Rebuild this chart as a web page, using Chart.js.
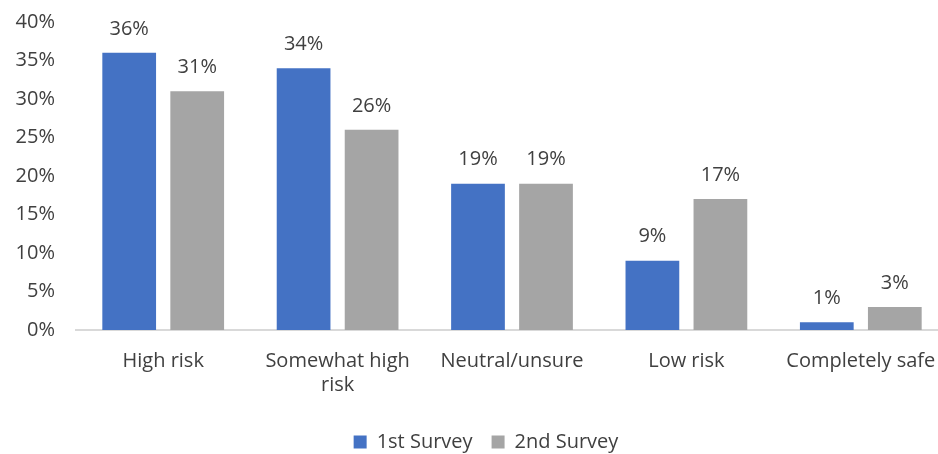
<!DOCTYPE html>
<html lang="en">
<head>
<meta charset="UTF-8">
<title>Risk survey</title>
<style>
  html, body { margin: 0; padding: 0; background: #fff; overflow: hidden; }
  #wrap { width: 980px; height: 454px; }
</style>
</head>
<body>
<div id="wrap"><canvas id="myChart"></canvas></div>
<script src="https://cdn.jsdelivr.net/npm/chart.js"></script>
<script>
// survey answers, percent of respondents
const categories = ["High risk", ["Somewhat high", "risk"], "Neutral/unsure", "Low risk", "Completely safe"];
const firstSurvey = [36, 34, 19, 9, 1];
const secondSurvey = [31, 26, 19, 17, 3];
const seriesNames = ["1st Survey", "2nd Survey"];
const yTicks = [0, 5, 10, 15, 20, 25, 30, 35, 40];

const textColor = "#404040";
const fontFamily = "'Open Sans', 'Noto Sans', sans-serif";

// labels above the bars
const valueLabels = {
    id: "valueLabels",
    afterLayout(chart) {
        // legend sits a bit right of / below where chart.js puts it
        chart.legend.left += 12;
        chart.legend.right += 12;
        chart.legend.top += 8;
        chart.legend.bottom += 8;
    },
    afterDatasetsDraw(chart) {
        const c = chart.ctx;
        c.save();
        c.font = "20px " + fontFamily;
        c.fillStyle = textColor;
        c.textAlign = "center";
        c.textBaseline = "bottom";
        chart.data.datasets.forEach((ds, i) => {
            chart.getDatasetMeta(i).data.forEach((bar, k) => {
                c.fillText(ds.data[k] + "%", bar.x, bar.y - 14);
            });
        });
        c.restore();
    }
};

const ctx = document.getElementById("myChart");
const myChart = new Chart(ctx, {
    type: "bar",
    data: {
        labels: categories,
        datasets: [{
            label: seriesNames[0],
            data: firstSurvey,
            backgroundColor: "#4472C4",
            categoryPercentage: 0.78,
            barPercentage: 0.79
        }, {
            label: seriesNames[1],
            data: secondSurvey,
            backgroundColor: "#A5A5A5",
            categoryPercentage: 0.78,
            barPercentage: 0.79
        }]
    },
    options: {
        responsive: true,
        maintainAspectRatio: false,
        animation: false,
        layout: { padding: { left: 0, right: 32, top: 22, bottom: 0 } },
        plugins: {
            legend: {
                position: "bottom",
                labels: {
                    color: textColor,
                    font: { size: 20, family: fontFamily },
                    boxWidth: 13,
                    boxHeight: 13,
                    padding: 19
                }
            },
            tooltip: { enabled: false }
        },
        scales: {
            x: {
                grid: { display: false },
                border: { display: true, color: "#D9D9D9", width: 2 },
                ticks: {
                    color: textColor,
                    font: { size: 20, family: fontFamily },
                    padding: 11,
                    maxRotation: 0
                },
                afterFit(scale) {
                    scale.height -= 3;
                }
            },
            y: {
                min: 0,
                max: 40,
                afterBuildTicks(scale) {
                    scale.ticks = yTicks.map(v => ({ value: v }));
                },
                afterFit(scale) {
                    scale.width = 76;
                    scale.paddingTop = 0;
                    scale.paddingBottom = 0;
                },
                grid: { display: false, drawTicks: false },
                border: { display: false },
                ticks: {
                    color: textColor,
                    font: { size: 20, family: fontFamily },
                    padding: 21,
                    callback: v => v + "%"
                }
            }
        }
    },
    plugins: [valueLabels]
});
</script>
</body>
</html>
